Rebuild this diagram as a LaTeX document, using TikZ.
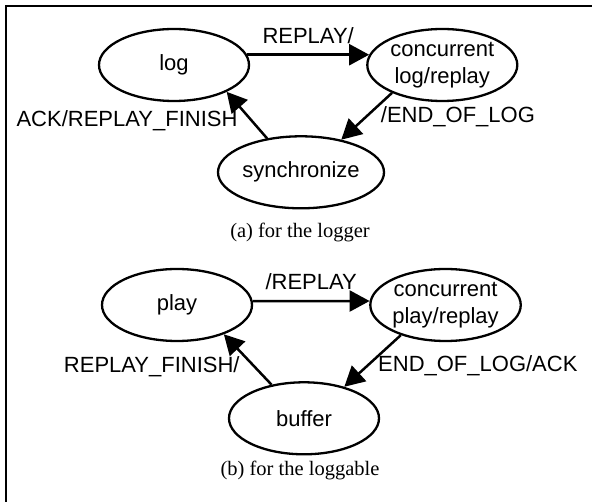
\documentclass[tikz,border=0pt]{standalone}
\usepackage{fontspec}
\setmainfont{Liberation Sans}
\newfontfamily\capfont{Liberation Serif}
\usetikzlibrary{positioning,shapes.geometric,arrows.meta}

\begin{document}
\begin{tikzpicture}[x=1pt,y=-1pt]
      \tikzstyle{state}=[ellipse, draw=black, line width=2.3pt, minimum width=150pt, minimum height=72pt, inner sep=0pt, align=center, font=\fontsize{22}{27}\selectfont]
      \tikzstyle{connect}=[-{Triangle[length=20pt,width=21pt]}, line width=2.5pt]
      \tikzstyle{trans}=[font=\fontsize{22}{26}\selectfont, inner sep=0pt]
      \tikzstyle{caption}=[font=\capfont\fontsize{20.5}{24}\selectfont]

      \useasboundingbox (0,0) rectangle (592,502);
      \draw[line width=2.5pt] (6,502) -- (6,6) -- (592,6);

      % logger
      \node[state] (log) at (174,65) {log};
      \node[state] (clog) [right=116pt of log] {concurrent\\log/replay};
      \node[state] (sync) [below=33pt of log, xshift=127pt] {synchronize};
      \node[caption] (capa) at (300,232) {(a) for the logger};

      \path (log.8) edge [connect] node[trans, above=10pt] {REPLAY/} (clog.172);
      \path (clog.209) edge [connect] node[trans, right=13pt, pos=.5] {/END\_OF\_LOG} (sync.39);
      \path (sync.135) edge [connect] node[trans, left=13pt, pos=.38] {ACK/REPLAY\_FINISH} (log.333);

      % loggable
      \node[state] (play) at (177,305) {play};
      \node[state] (cplay) [right=116pt of play] {concurrent\\play/replay};
      \node[state] (buf) [below=39pt of play, xshift=127pt] {buffer};
      \node[caption] (capb) at (300,470) {(b) for the loggable};

      \path (play.3) edge [connect] node[trans, above=10pt] {/REPLAY} (cplay.177);
      \path (cplay.214) edge [connect] node[trans, right=10pt, pos=.6] {END\_OF\_LOG/ACK} (buf.38);
      \path (buf.134) edge [connect] node[trans, left=14pt, pos=.35] {REPLAY\_FINISH/} (play.328);

    \end{tikzpicture}
\end{document}
